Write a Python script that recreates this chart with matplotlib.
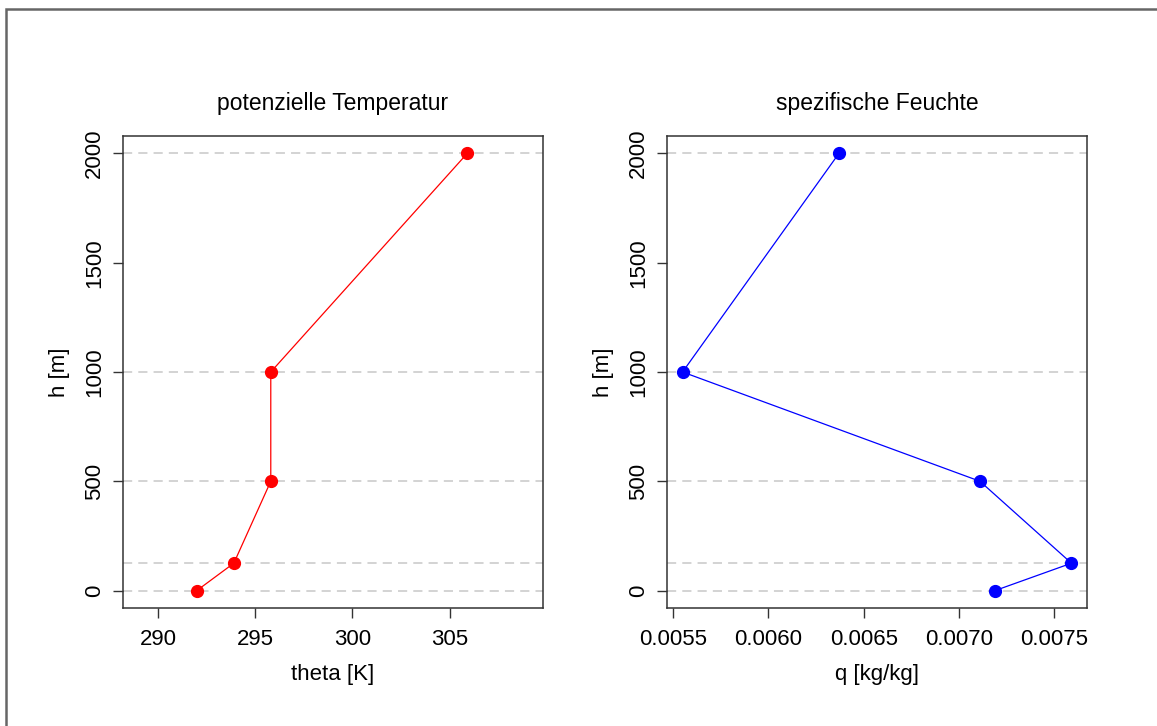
import matplotlib
matplotlib.use('Agg')
import matplotlib.pyplot as plt
from matplotlib.patches import Rectangle

plt.rcParams['font.family'] = ['Liberation Sans', 'DejaVu Sans']

# profile data
heights = [0, 125, 500, 1000, 2000]
theta = [292.0, 293.9, 295.8, 295.8, 305.9]
q = [0.00719, 0.00759, 0.00711, 0.00555, 0.00637]

theta_ticks = [290, 295, 300, 305]
q_ticks = [0.0055, 0.0060, 0.0065, 0.0070, 0.0075]
q_ticklabels = ['0.0055', '0.0060', '0.0065', '0.0070', '0.0075']
h_ticks = [0, 500, 1000, 1500, 2000]

W, H = 1157, 726
fig = plt.figure(figsize=(W / 100, H / 100), dpi=100)

# grey frame around the figure (only left and top edges visible)
fig.patches.append(Rectangle((6 / W, -0.1), 1.2, 1 - 9 / H + 0.1,
                             transform=fig.transFigure, fill=False,
                             edgecolor='#666666', linewidth=1.8))

fs = 16


def panel(rect, x, color, title, xlabel, xlim, xticks, xticklabels):
    ax = fig.add_axes(rect)
    for h in heights:
        ax.axhline(h, color='#c8c8c8', linestyle=(0, (6, 4)), linewidth=1.1, zorder=1)
    ax.plot(x, heights, color=color, linewidth=0.9, marker='o',
            markersize=8.5, zorder=3)
    ax.set_xlim(*xlim)
    ax.set_ylim(-80, 2080)
    ax.set_xticks(xticks)
    ax.set_xticklabels(xticklabels, fontsize=fs)
    ax.set_yticks(h_ticks)
    ax.set_yticklabels([str(t) for t in h_ticks], fontsize=fs, rotation=90, va='center')
    ax.tick_params(length=7, width=1, color='#333333', pad=6)
    ax.tick_params(axis='x', pad=8)
    for s in ax.spines.values():
        s.set_color('#333333')
        s.set_linewidth(1.1)
    ax.set_title(title, fontsize=16.5, pad=19)
    ax.set_xlabel(xlabel, fontsize=fs, labelpad=10)
    ax.set_ylabel('h [m]', fontsize=fs, labelpad=10)
    return ax


bottom = 1 - 608 / H
height = 472 / H
width = 420 / W

panel([123 / W, bottom, width, height], theta, '#ff0000', 'potenzielle Temperatur',
      'theta [K]', (288.2, 309.8), theta_ticks, [str(t) for t in theta_ticks])

qmin, qmax = min(q), max(q)
pad = (qmax - qmin) * 0.04
panel([667 / W, bottom, width, height], q, '#0000ff', 'spezifische Feuchte',
      'q [kg/kg]', (qmin - pad, qmax + pad), q_ticks, q_ticklabels)

fig.savefig('out.png', dpi=100)
